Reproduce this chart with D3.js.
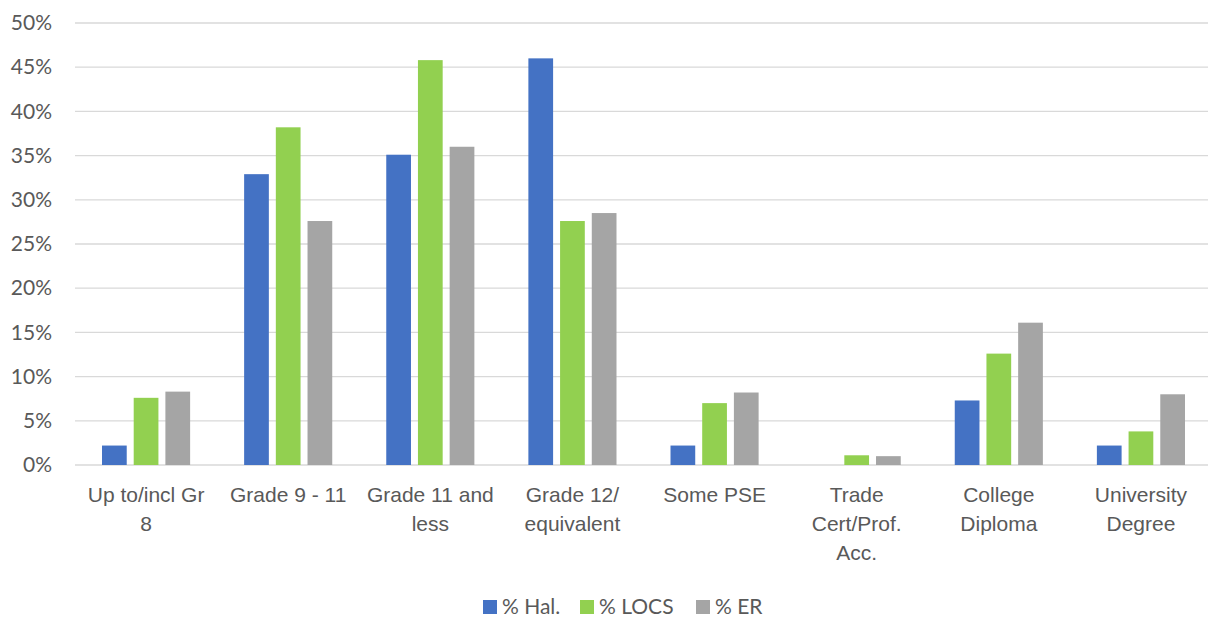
<!DOCTYPE html>
<html>
<head>
<meta charset="utf-8">
<script src="https://cdn.jsdelivr.net/npm/d3@7"></script>
<style>
  html, body { margin: 0; padding: 0; background: #fff; }
  svg { display: block; font-family: Lato, "Open Sans", sans-serif; }
</style>
</head>
<body>
<svg id="chart" width="1208" height="620"></svg>
<script>
// Education level categories ("\n" marks where a label wraps)
const categories = [
  "Up to/incl Gr\n8",
  "Grade 9 - 11",
  "Grade 11 and\nless",
  "Grade 12/\nequivalent",
  "Some PSE",
  "Trade\nCert/Prof.\nAcc.",
  "College\nDiploma",
  "University\nDegree"
];
const seriesNames = ["% Hal.", "% LOCS", "% ER"];
const seriesColors = ["#4472C4", "#92D050", "#A5A5A5"];

// Percent values per category
const hal  = [2.2, 32.9, 35.1, 46.0, 2.2, 0.0, 7.3, 2.2];
const locs = [7.6, 38.2, 45.8, 27.6, 7.0, 1.1, 12.6, 3.8];
const er   = [8.3, 27.6, 36.0, 28.5, 8.2, 1.0, 16.1, 8.0];
const seriesValues = [hal, locs, er];

const yTicks = [0, 5, 10, 15, 20, 25, 30, 35, 40, 45, 50];

const FONT_SIZE = "21px";
const TEXT_COLOR = "#595959";

const svg = d3.select("#chart");
const margin = { left: 75, right: 1212, top: 23, bottom: 465 };

const x0 = d3.scaleBand()
  .domain(categories)
  .range([margin.left, margin.right])
  .paddingInner(0.38)
  .paddingOuter(0.19);

const x1 = d3.scaleBand()
  .domain(seriesNames)
  .range([0, x0.bandwidth()])
  .paddingInner(0.22);

const y = d3.scaleLinear()
  .domain([0, 50])
  .range([margin.bottom, margin.top]);

// Gridlines
svg.append("g")
  .selectAll("line")
  .data(yTicks)
  .join("line")
  .attr("x1", margin.left)
  .attr("x2", margin.right)
  .attr("y1", d => y(d))
  .attr("y2", d => y(d))
  .attr("stroke", "#d9d9d9")
  .attr("stroke-width", 1.3);

// Y axis labels
const yAxis = d3.axisLeft(y)
  .tickValues(yTicks)
  .tickFormat(d => d + "%")
  .tickSize(0)
  .tickPadding(0);
const yg = svg.append("g")
  .attr("transform", `translate(${52},0)`)
  .call(yAxis);
yg.select(".domain").remove();
yg.selectAll("text")
  .attr("fill", TEXT_COLOR)
  .style("font-size", FONT_SIZE)
  .style("font-family", "Lato, 'Open Sans', sans-serif");

// Bars
const groups = svg.append("g")
  .selectAll("g")
  .data(categories)
  .join("g")
  .attr("transform", d => `translate(${x0(d)},0)`);

groups.selectAll("rect")
  .data((c, i) => seriesNames.map((s, j) => ({ s, v: seriesValues[j][i], color: seriesColors[j] })))
  .join("rect")
  .attr("x", d => x1(d.s))
  .attr("width", x1.bandwidth())
  .attr("y", d => y(d.v))
  .attr("height", d => y(0) - y(d.v))
  .attr("fill", d => d.color);

// Category labels
const xAxis = d3.axisBottom(x0).tickSize(0).tickFormat("");
const xg = svg.append("g")
  .attr("transform", `translate(0,${margin.bottom})`)
  .call(xAxis);
xg.select(".domain").remove();
xg.selectAll(".tick").each(function(d) {
  const t = d3.select(this).append("text")
    .attr("text-anchor", "middle")
    .attr("fill", TEXT_COLOR)
    .style("font-size", FONT_SIZE);
  d.split("\n").forEach((line, i) => {
    t.append("tspan")
      .attr("x", 0)
      .attr("y", 37 + i * 29)
      .text(line);
  });
});

// Legend
const legendX = [483, 580, 696];
const lg = svg.append("g");
seriesNames.forEach((name, i) => {
  lg.append("rect")
    .attr("x", legendX[i])
    .attr("y", 600)
    .attr("width", 14)
    .attr("height", 14)
    .attr("fill", seriesColors[i]);
  lg.append("text")
    .attr("x", legendX[i] + 19)
    .attr("y", 614)
    .attr("fill", TEXT_COLOR)
    .style("font-size", FONT_SIZE)
    .text(name);
});
</script>
</body>
</html>
